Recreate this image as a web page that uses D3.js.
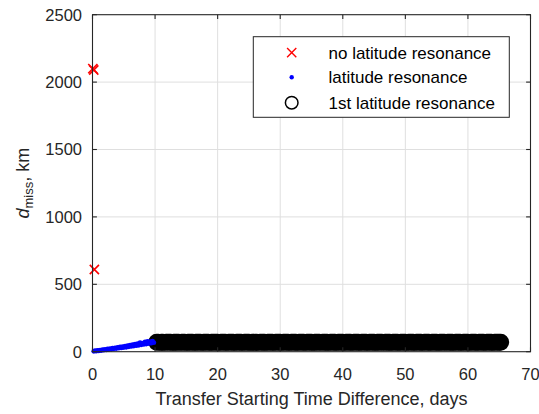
<!DOCTYPE html>
<html>
<head>
<meta charset="utf-8">
<script src="https://cdn.jsdelivr.net/npm/d3@7"></script>
<style>
  html, body { margin: 0; padding: 0; background: #ffffff; }
  svg { display: block; font-family: "Liberation Sans", Arial, Helvetica, sans-serif; }
</style>
</head>
<body>
<svg id="chart" width="539" height="414"></svg>
<script>
// Transfers with no latitude resonance (day, miss distance in km)
const noResDays = [0.05, 0.2, 0.3];
const noResMiss = [2100, 2090, 610];

// Transfers reaching a latitude resonance before the first one is hit
const latDays = [0.2, 0.4, 0.6, 0.8, 1.0, 1.2, 1.4, 1.6, 1.8, 2.0,
                 2.2, 2.4, 2.6, 2.8, 3.0, 3.2, 3.4, 3.6, 3.8, 4.0,
                 4.2, 4.4, 4.6, 4.8, 5.0, 5.2, 5.4, 5.6, 5.8, 6.0,
                 6.2, 6.4, 6.6, 6.8, 7.0, 7.2, 7.4, 7.6, 7.8, 8.0,
                 8.2, 8.4, 8.6, 8.8, 9.0, 9.2, 9.4, 9.6, 9.8];
const latMiss = [3, 7, 4, 10, 6, 12, 9, 15, 11, 17,
                 13, 20, 16, 23, 18, 26, 21, 29, 23, 32,
                 26, 35, 28, 38, 31, 41, 33, 45, 36, 48,
                 39, 52, 42, 56, 45, 60, 48, 68, 51, 64,
                 54, 72, 57, 76, 60, 74, 63, 78, 67];

// Transfers hitting the 1st latitude resonance
const firstDays = [
  10.25,10.5,10.75,11, 11.25,11.5,11.75,12, 12.25,12.5,12.75,13, 13.25,13.5,13.75,14,
  14.25,14.5,14.75,15, 15.25,15.5,15.75,16, 16.25,16.5,16.75,17, 17.25,17.5,17.75,18,
  18.25,18.5,18.75,19, 19.25,19.5,19.75,20, 20.25,20.5,20.75,21, 21.25,21.5,21.75,22,
  22.25,22.5,22.75,23, 23.25,23.5,23.75,24, 24.25,24.5,24.75,25, 25.25,25.5,25.75,26,
  26.25,26.5,26.75,27, 27.25,27.5,27.75,28, 28.25,28.5,28.75,29, 29.25,29.5,29.75,30,
  30.25,30.5,30.75,31, 31.25,31.5,31.75,32, 32.25,32.5,32.75,33, 33.25,33.5,33.75,34,
  34.25,34.5,34.75,35, 35.25,35.5,35.75,36, 36.25,36.5,36.75,37, 37.25,37.5,37.75,38,
  38.25,38.5,38.75,39, 39.25,39.5,39.75,40, 40.25,40.5,40.75,41, 41.25,41.5,41.75,42,
  42.25,42.5,42.75,43, 43.25,43.5,43.75,44, 44.25,44.5,44.75,45, 45.25,45.5,45.75,46,
  46.25,46.5,46.75,47, 47.25,47.5,47.75,48, 48.25,48.5,48.75,49, 49.25,49.5,49.75,50,
  50.25,50.5,50.75,51, 51.25,51.5,51.75,52, 52.25,52.5,52.75,53, 53.25,53.5,53.75,54,
  54.25,54.5,54.75,55, 55.25,55.5,55.75,56, 56.25,56.5,56.75,57, 57.25,57.5,57.75,58,
  58.25,58.5,58.75,59, 59.25,59.5,59.75,60, 60.25,60.5,60.75,61, 61.25,61.5,61.75,62,
  62.25,62.5,62.75,63, 63.25,63.5,63.75,64, 64.25,64.5,64.75,65, 65.25];
const firstMiss = [
  70,71,69,70, 70,69,71,70, 71,70,69,70, 70,70,71,69,
  70,71,70,69, 70,70,71,70, 69,70,70,71, 70,69,70,70,
  71,70,69,70, 70,71,70,70, 69,70,71,70, 70,69,70,71,
  70,70,69,70, 71,70,70,69, 70,71,70,70, 69,70,70,71,
  70,69,71,70, 70,70,69,70, 71,70,70,69, 70,71,70,70,
  69,70,71,70, 70,69,70,71, 70,70,69,70, 71,70,70,69,
  70,71,70,70, 69,70,70,71, 70,69,71,70, 70,70,69,70,
  71,70,70,69, 70,71,70,70, 69,70,71,70, 70,69,70,71,
  70,70,69,70, 71,70,70,69, 70,71,70,70, 69,70,70,71,
  70,69,71,70, 70,70,69,70, 71,70,70,69, 70,71,70,70,
  69,70,71,70, 70,69,70,71, 70,70,69,70, 71,70,70,69,
  70,71,70,70, 69,70,70,71, 70,69,71,70, 70,70,69,70,
  71,70,70,69, 70,71,70,70, 69,70,71,70, 70,69,70,71,
  70,70,69,70, 71,70,70,69, 70,71,70,70, 70];

const xTicks = [0, 10, 20, 30, 40, 50, 60, 70];
const yTicks = [0, 500, 1000, 1500, 2000, 2500];
const legendLabels = ["no latitude resonance", "latitude resonance", "1st latitude resonance"];

const axisColor = "#262626";
const gridColor = "#dfdfdf";

const svg = d3.select("#chart");
const plot = { left: 92.5, right: 530.5, top: 14.7, bottom: 351.7 };

const x = d3.scaleLinear().domain([0, 70]).range([plot.left, plot.right]);
const y = d3.scaleLinear().domain([0, 2500]).range([plot.bottom, plot.top]);

// grid
const grid = svg.append("g");
grid.selectAll(".gx").data(xTicks.slice(1, -1)).join("line")
  .attr("x1", d => x(d)).attr("x2", d => x(d))
  .attr("y1", plot.top).attr("y2", plot.bottom)
  .attr("stroke", gridColor).attr("stroke-width", 1);
grid.selectAll(".gy").data(yTicks.slice(1, -1)).join("line")
  .attr("x1", plot.left).attr("x2", plot.right)
  .attr("y1", d => y(d)).attr("y2", d => y(d))
  .attr("stroke", gridColor).attr("stroke-width", 1);

// data
const marks = svg.append("g");
const firstPts = firstDays.map((d, i) => [d, firstMiss[i]]);
marks.selectAll("circle.first").data(firstPts).join("circle")
  .attr("class", "first")
  .attr("cx", d => x(d[0])).attr("cy", d => y(d[1]))
  .attr("r", 6.1)
  .attr("fill", "none").attr("stroke", "#000").attr("stroke-width", 4.6);

const latPts = latDays.map((d, i) => [d, latMiss[i]]);
marks.selectAll("circle.lat").data(latPts).join("circle")
  .attr("class", "lat")
  .attr("cx", d => x(d[0])).attr("cy", d => y(d[1]))
  .attr("r", 2.4).attr("fill", "#0000ff");

const crossPath = s => `M${-s},${-s}L${s},${s}M${-s},${s}L${s},${-s}`;
const noResPts = noResDays.map((d, i) => [d, noResMiss[i]]);
marks.selectAll("path.nores").data(noResPts).join("path")
  .attr("class", "nores")
  .attr("transform", d => `translate(${x(d[0])},${y(d[1])})`)
  .attr("d", crossPath(4.6))
  .attr("fill", "none").attr("stroke", "#ff0000").attr("stroke-width", 1.6);

// axes box with inward ticks
const axes = svg.append("g").attr("stroke", axisColor).attr("stroke-width", 1.1);
axes.append("rect")
  .attr("x", plot.left).attr("y", plot.top)
  .attr("width", plot.right - plot.left).attr("height", plot.bottom - plot.top)
  .attr("fill", "none");
const tl = 4.4;
axes.selectAll(".tx").data(xTicks).join("line")
  .attr("x1", d => x(d)).attr("x2", d => x(d))
  .attr("y1", plot.bottom).attr("y2", plot.bottom - tl);
axes.selectAll(".txt").data(xTicks).join("line")
  .attr("x1", d => x(d)).attr("x2", d => x(d))
  .attr("y1", plot.top).attr("y2", plot.top + tl);
axes.selectAll(".ty").data(yTicks).join("line")
  .attr("x1", plot.left).attr("x2", plot.left + tl)
  .attr("y1", d => y(d)).attr("y2", d => y(d));
axes.selectAll(".tyr").data(yTicks).join("line")
  .attr("x1", plot.right).attr("x2", plot.right - tl)
  .attr("y1", d => y(d)).attr("y2", d => y(d));

// tick labels
svg.append("g").selectAll("text").data(xTicks).join("text")
  .attr("x", d => x(d)).attr("y", 380)
  .attr("text-anchor", "middle")
  .attr("font-size", 16.5).attr("fill", axisColor)
  .text(d => d);
svg.append("g").selectAll("text").data(yTicks).join("text")
  .attr("x", 82).attr("y", d => y(d))
  .attr("dy", "0.36em")
  .attr("text-anchor", "end")
  .attr("font-size", 16.5).attr("fill", axisColor)
  .text(d => d);

// axis titles
svg.append("text")
  .attr("x", (plot.left + plot.right) / 2).attr("y", 405)
  .attr("text-anchor", "middle")
  .attr("font-size", 18).attr("fill", axisColor)
  .text("Transfer Starting Time Difference, days");

const yl = svg.append("text")
  .attr("transform", `translate(29,${(plot.top + plot.bottom) / 2}) rotate(-90)`)
  .attr("text-anchor", "middle")
  .attr("font-size", 18).attr("fill", axisColor);
yl.append("tspan").attr("font-style", "italic").text("d");
yl.append("tspan").attr("font-size", 13).attr("dy", 4).text("miss");
yl.append("tspan").attr("dy", -4).text(", km");

// legend
const lg = svg.append("g");
lg.append("rect")
  .attr("x", 253.3).attr("y", 36.7).attr("width", 256).attr("height", 80.6)
  .attr("fill", "#fff").attr("stroke", axisColor).attr("stroke-width", 1);
const rowY = [52.7, 77.3, 102.7];
const mx = 291.7;
lg.append("path")
  .attr("transform", `translate(${mx},${rowY[0]})`)
  .attr("d", crossPath(4.6))
  .attr("fill", "none").attr("stroke", "#ff0000").attr("stroke-width", 1.4);
lg.append("circle").attr("cx", mx).attr("cy", rowY[1]).attr("r", 2.2).attr("fill", "#0000ff");
lg.append("circle").attr("cx", mx).attr("cy", rowY[2]).attr("r", 6.3)
  .attr("fill", "none").attr("stroke", "#000").attr("stroke-width", 1.5);
lg.selectAll("text.lab").data(legendLabels).join("text")
  .attr("class", "lab")
  .attr("x", 328.5).attr("y", (d, i) => rowY[i])
  .attr("dy", "0.36em")
  .attr("font-size", 17).attr("fill", "#000")
  .text(d => d);
</script>
</body>
</html>
